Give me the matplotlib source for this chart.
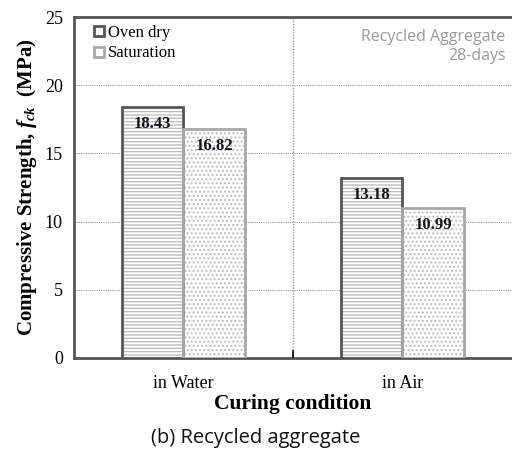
import numpy as np
import matplotlib
matplotlib.use("Agg")
import matplotlib.pyplot as plt
from matplotlib.lines import Line2D

plt.rcParams['font.family'] = ['Liberation Serif', 'DejaVu Serif']
plt.rcParams['mathtext.fontset'] = 'custom'
plt.rcParams['mathtext.it'] = 'Liberation Serif:italic:bold'
plt.rcParams['mathtext.rm'] = 'Liberation Serif:bold'
plt.rcParams['mathtext.bf'] = 'Liberation Serif:bold'
plt.rcParams['hatch.linewidth'] = 0.9

conditions = ["in Water", "in Air"]
oven_dry = [18.43, 13.18]
saturation = [16.82, 10.99]
series_names = ["Oven dry", "Saturation"]

BAR_W = 0.283
EDGE_DARK = "#555555"
EDGE_LIGHT = "#a8a8a8"
HATCH_GREY = "#b8b8b8"

fig = plt.figure(figsize=(5.12, 4.54), dpi=100)
ax = fig.add_axes([0.1445, 0.2115, 0.8555, 0.751])

x = np.arange(len(conditions))


def hatched_bar(xpos, vals, hatch, edge):
    # hatch layer takes its colour from the edge, so draw it first without outline
    ax.bar(xpos, vals, BAR_W, facecolor="white", edgecolor=HATCH_GREY,
           linewidth=0, hatch=hatch, zorder=3)
    ax.bar(xpos, vals, BAR_W, facecolor="none", edgecolor=edge,
           linewidth=2, zorder=4)


hatched_bar(x - BAR_W / 2, oven_dry, "-----", EDGE_DARK)
hatched_bar(x + BAR_W / 2, saturation, "....", EDGE_LIGHT)

# value labels inside the top of each bar
for xi, v in zip(x - BAR_W / 2, oven_dry):
    ax.text(xi, v - 1.25, f"{v:.2f}", ha="center", va="center",
            fontsize=12, fontweight="bold", color="#111122", zorder=5)
for xi, v in zip(x + BAR_W / 2, saturation):
    ax.text(xi, v - 1.25, f"{v:.2f}", ha="center", va="center",
            fontsize=12, fontweight="bold", color="#111122", zorder=5)

ax.set_xlim(-0.5, 1.5)
ax.set_ylim(0, 25)
ax.set_yticks(np.arange(0, 26, 5))
ax.set_xticks(x)
ax.set_xticklabels(conditions, fontsize=13)
ax.tick_params(axis="y", length=0, labelsize=13, pad=8)
ax.tick_params(axis="x", length=0, labelsize=13, pad=12)

# category divider and horizontal grid
ax.axvline(0.5, color="#999999", linestyle=(0, (1, 1)), linewidth=1, zorder=1)
ax.plot([0.5, 0.5], [0, 0.5], color="black", linewidth=1.2, zorder=4)
for yv in [5, 10, 15, 20]:
    ax.axhline(yv, color="#999999", linestyle=(0, (1, 1)), linewidth=0.8, zorder=1)

for side in ["left", "bottom", "top"]:
    ax.spines[side].set_color(EDGE_DARK)
    ax.spines[side].set_linewidth(2)
ax.spines["right"].set_visible(False)

ax.set_ylabel(r"Compressive Strength, $f_{ck}$  (MPa)", fontsize=15, fontweight="bold", labelpad=4)
ax.set_xlabel("Curing condition", fontsize=15.5, fontweight="bold", labelpad=2)

handles = [
    Line2D([], [], marker="s", linestyle="none", markersize=7, markerfacecolor="white",
           markeredgecolor=EDGE_DARK, markeredgewidth=2),
    Line2D([], [], marker="s", linestyle="none", markersize=7, markerfacecolor="white",
           markeredgecolor=EDGE_LIGHT, markeredgewidth=2),
]
ax.legend(handles, series_names, loc="upper left", bbox_to_anchor=(0.02, 1.01), frameon=False,
          fontsize=12, handlelength=0.6, handletextpad=0.2, labelspacing=0.25, borderaxespad=0.3)

ax.text(0.985, 0.965, "Recycled Aggregate\n28-days", transform=ax.transAxes, ha="right", va="top",
        fontsize=11.5, color="#999999", family=["Open Sans", "DejaVu Sans"], linespacing=1.25)

fig.text(0.5, 0.035, "(b) Recycled aggregate", ha="center", va="center", fontsize=14.5,
         family=["Open Sans", "DejaVu Sans"], color="#111111")

fig.savefig("out.png", dpi=100)
